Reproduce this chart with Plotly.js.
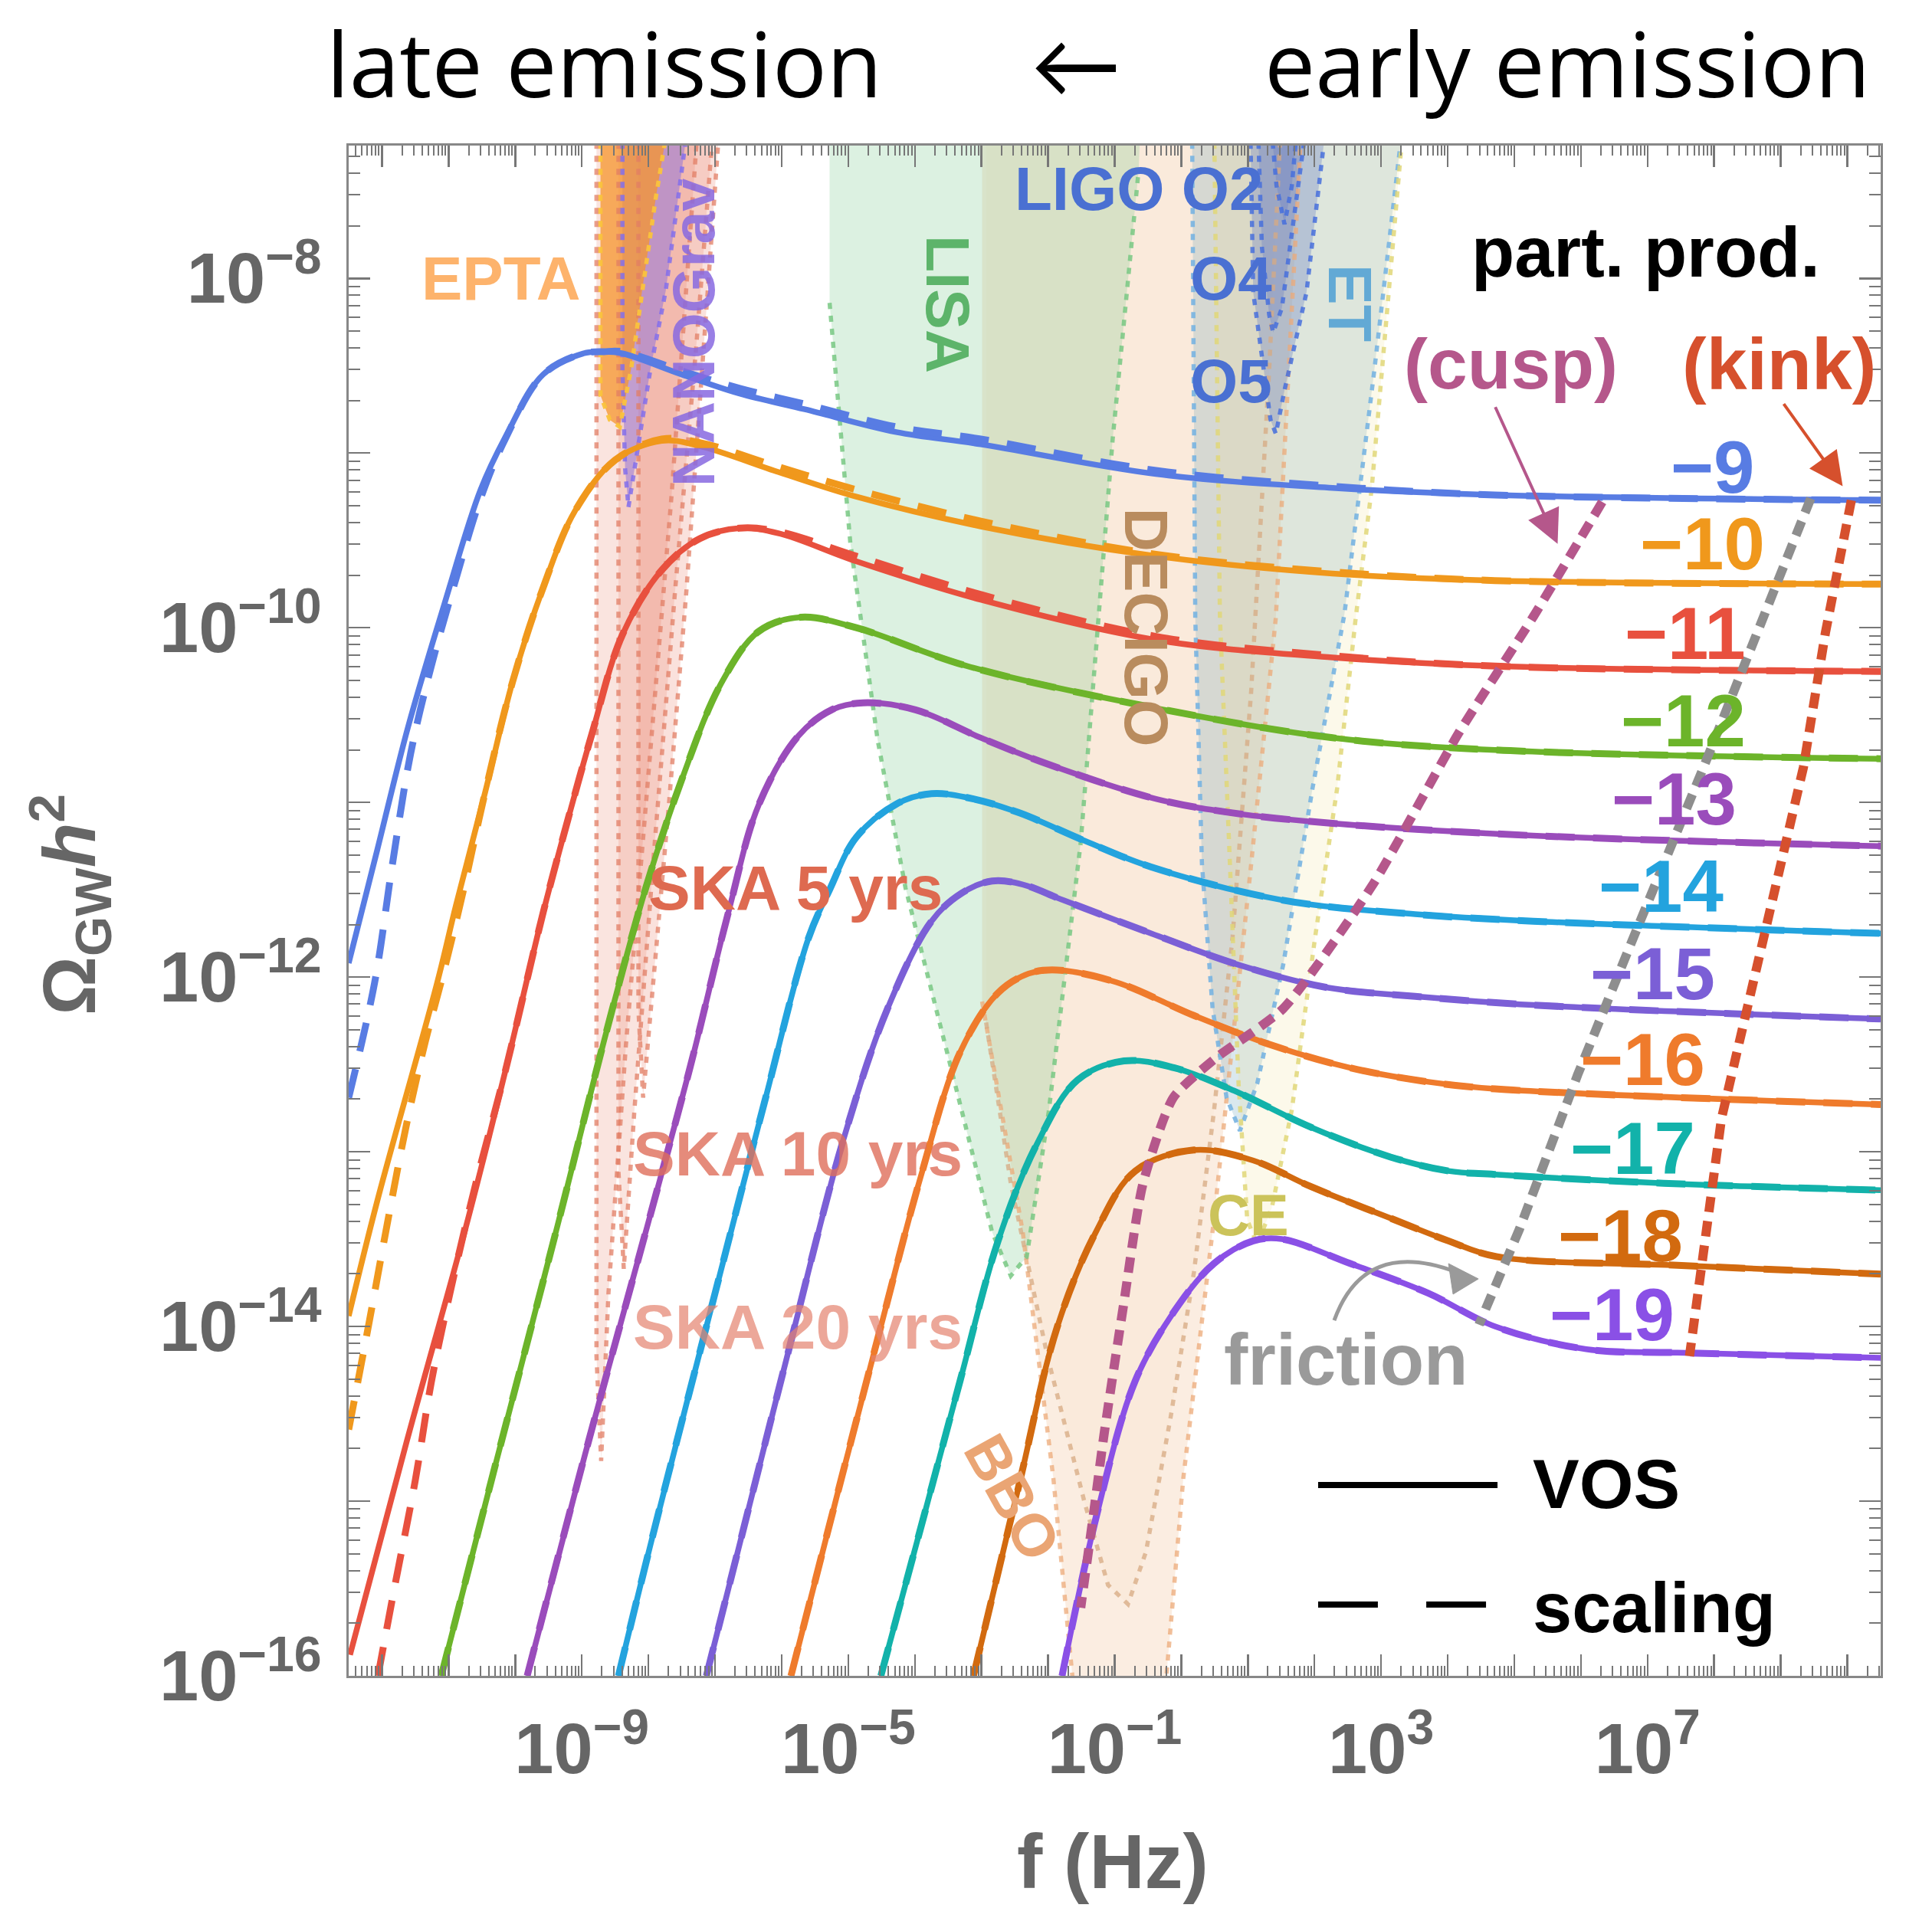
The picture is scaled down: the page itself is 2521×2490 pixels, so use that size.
<!DOCTYPE html>
<html><head><meta charset="utf-8">
<script src="https://cdn.plot.ly/plotly-3.0.1.min.js"></script>
<style>html,body{margin:0;padding:0;background:#fff}#chart{width:2521px;height:2490px}</style>
</head><body><div id="chart"></div>
<script>
// ---------------- DATA (log10 f [Hz], log10 Omega_GW h^2) ----------------
const gmuLabels = ['\u22129','\u221210','\u221211','\u221212','\u221213','\u221214','\u221215','\u221216','\u221217','\u221218','\u221219'];

// VOS (solid) curves
const vos_m9_f  = [-12.50,-12.07,-11.61,-11.06,-10.52,-10.15,-9.58,-8.98,-8.67,-8.39,-7.50,-6.63,-5.65,-4.28,-3.01,-0.38,2.27,4.71,10.50];
const vos_m9_O  = [-11.92,-11.27,-10.57,-9.86,-9.21,-8.91,-8.55,-8.43,-8.42,-8.43,-8.55,-8.66,-8.75,-8.88,-8.95,-9.12,-9.20,-9.24,-9.27];
const vos_m10_f = [-12.50,-12.07,-11.17,-10.89,-10.45,-10.04,-9.58,-9.10,-8.50,-7.80,-7.23,-6.04,-4.88,-3.01,-0.38,2.27,4.71,10.50];
const vos_m10_O = [-13.94,-13.28,-12.03,-11.59,-10.94,-10.31,-9.77,-9.33,-9.04,-8.93,-8.96,-9.11,-9.25,-9.42,-9.59,-9.69,-9.73,-9.75];
const vos_m11_f = [-12.48,-11.63,-10.74,-10.15,-9.58,-9.21,-8.85,-8.39,-7.80,-7.23,-6.63,-6.04,-4.88,-3.01,-0.38,2.27,4.71,10.50];
const vos_m11_O = [-15.88,-14.66,-13.43,-12.54,-11.63,-11.10,-10.61,-10.04,-9.67,-9.49,-9.43,-9.46,-9.62,-9.84,-10.07,-10.17,-10.22,-10.25];
const vos_m12_f = [-11.11,-10.33,-9.37,-8.67,-8.04,-7.50,-6.91,-6.34,-5.71,-4.88,-3.21,-0.38,2.27,4.71,10.50];
const vos_m12_O = [-16.00,-14.84,-13.43,-12.37,-11.49,-10.87,-10.32,-10.02,-9.94,-10.00,-10.22,-10.46,-10.63,-10.70,-10.75];
const vos_m13_f = [-9.82,-8.95,-8.02,-7.37,-6.80,-6.34,-5.75,-5.25,-4.78,-3.99,-3.01,-2.01,-0.38,0.77,2.27,5.28,10.50];
const vos_m13_O = [-16.00,-14.73,-13.43,-12.51,-11.63,-11.01,-10.62,-10.47,-10.43,-10.47,-10.63,-10.78,-10.98,-11.06,-11.12,-11.19,-11.25];
const vos_m14_f = [-8.45,-7.93,-7.00,-6.26,-5.60,-5.28,-4.88,-4.28,-3.75,-3.12,-2.43,-1.45,-0.45,1.53,3.51,5.28,10.50];
const vos_m14_O = [-16.00,-15.19,-13.81,-12.72,-11.78,-11.50,-11.20,-11.01,-10.95,-10.98,-11.06,-11.22,-11.37,-11.56,-11.64,-11.68,-11.75];
const vos_m15_f = [-7.13,-6.56,-5.89,-5.08,-4.41,-3.75,-3.30,-2.84,-2.38,-1.77,-0.45,0.86,2.19,3.51,5.28,10.50];
const vos_m15_O = [-16.00,-15.14,-14.13,-12.94,-12.18,-11.68,-11.52,-11.45,-11.47,-11.56,-11.75,-11.93,-12.06,-12.11,-12.16,-12.24];
const vos_m16_f = [-5.86,-5.15,-4.51,-3.91,-3.32,-2.75,-2.29,-1.86,-0.97,0.19,1.36,2.54,3.71,4.71,10.50];
const vos_m16_O = [-16.00,-14.94,-14.00,-13.14,-12.43,-12.09,-11.98,-11.96,-12.03,-12.22,-12.39,-12.52,-12.60,-12.64,-12.73];
const vos_m17_f = [-4.51,-3.86,-3.32,-2.75,-2.16,-1.56,-0.86,-0.10,0.79,1.95,3.14,4.01,4.71,7.24,10.50];
const vos_m17_O = [-16.00,-15.08,-14.31,-13.51,-12.95,-12.59,-12.48,-12.52,-12.65,-12.86,-13.03,-13.11,-13.13,-13.18,-13.22];
const vos_m18_f = [-3.12,-2.45,-1.86,-1.27,-0.69,0.19,1.08,1.95,3.14,4.01,4.73,7.45,10.50];
const vos_m18_O = [-16.00,-14.93,-14.00,-13.45,-13.11,-12.99,-13.05,-13.20,-13.38,-13.51,-13.60,-13.65,-13.70];
const vos_m19_f = [-1.79,-1.27,-0.69,-0.10,0.49,1.08,1.51,2.54,3.71,4.71,6.08,7.45,10.50];
const vos_m19_O = [-16.00,-15.08,-14.31,-13.91,-13.64,-13.51,-13.50,-13.64,-13.81,-14.00,-14.13,-14.15,-14.18];

// Scaling (dashed) curves that differ visibly from VOS
const scl_m9_f  = [-12.50,-12.11,-11.85,-11.57,-11.26,-10.89,-10.52,-10.15,-9.58,-8.98,-8.67,-8.39,-7.50,-6.63,-5.65,-4.28,-3.01,-0.38,2.27,4.71,10.50];
const scl_m9_O  = [-12.69,-12.03,-11.37,-10.72,-10.22,-9.72,-9.26,-8.92,-8.55,-8.43,-8.42,-8.42,-8.53,-8.63,-8.72,-8.85,-8.92,-9.10,-9.19,-9.24,-9.27];
const scl_m10_f = [-12.50,-12.19,-11.91,-11.63,-11.35,-11.08,-10.80,-10.45,-10.04,-9.58,-9.10,-8.50,-7.80,-7.23,-6.04,-4.88,-3.01,-0.38,2.27,4.71,10.50];
const scl_m10_O = [-14.59,-13.97,-13.39,-12.84,-12.37,-11.98,-11.54,-10.94,-10.31,-9.77,-9.33,-9.04,-8.92,-8.94,-9.08,-9.21,-9.39,-9.58,-9.68,-9.73,-9.75];
const scl_m11_f = [-12.06,-11.82,-11.50,-11.26,-10.98,-10.61,-10.15,-9.58,-9.21,-8.85,-8.39,-7.80,-7.23,-6.63,-6.04,-4.88,-3.01,-0.38,2.27,4.71,10.50];
const scl_m11_O = [-16.00,-15.51,-14.88,-14.32,-13.81,-13.21,-12.54,-11.63,-11.10,-10.61,-10.04,-9.67,-9.49,-9.43,-9.45,-9.59,-9.81,-10.05,-10.16,-10.22,-10.25];

// Particle-production / friction lines
const cusp_f = [6.32,5.28,4.17,2.86,1.53,0.53,-0.12,-0.58,-0.86,-1.16,-1.32,-1.51];
const cusp_O = [-9.28,-9.94,-10.60,-11.48,-12.18,-12.46,-12.69,-13.19,-13.86,-14.62,-15.08,-15.61];
const kink_f = [10.06,9.67,9.34,8.65,8.11,7.63];
const kink_O = [-9.27,-10.03,-10.80,-11.92,-12.81,-14.17];
const fric_f = [9.45,8.45,7.84,6.76,5.95,5.08,4.47];
const fric_O = [-9.26,-10.22,-10.80,-11.80,-12.56,-13.44,-13.99];

// Detector sensitivity regions
const ska20_f = [-8.78,-8.78,-8.71,-8.60,-8.34,-8.02,-7.65,-7.28,-7.24];
const ska20_O = [-7.0,-14.17,-14.77,-13.81,-12.40,-10.92,-9.23,-7.24,-7.0];
const ska10_f = [-8.45,-8.45,-8.37,-8.21,-7.93,-7.60,-7.28,-7.04,-7.00];
const ska10_O = [-7.0,-13.11,-13.67,-12.76,-11.35,-9.79,-8.38,-7.24,-7.0];
const ska5_f  = [-8.15,-8.15,-8.08,-7.93,-7.69,-7.43,-7.19,-6.95,-6.91];
const ska5_O  = [-7.0,-12.19,-12.69,-12.05,-11.00,-9.79,-8.52,-7.24,-7.0];
const epta_f  = [-8.72,-8.72,-8.58,-8.43,-8.26,-8.08,-7.89,-7.76,-7.72];
const epta_O  = [-7.0,-8.67,-8.81,-8.85,-8.52,-8.03,-7.54,-7.24,-7.0];
const nano_f  = [-8.39,-8.39,-8.35,-8.30,-8.15,-7.97,-7.74,-7.45,-7.41];
const nano_O  = [-7.0,-8.52,-9.09,-9.31,-8.95,-8.52,-8.07,-7.24,-7.0];
const lisa_f  = [-5.28,-5.28,-4.97,-4.56,-4.14,-3.49,-2.84,-2.56,-2.32,-1.99,-1.51,-1.03,-0.64,-0.60];
const lisa_O  = [-7.0,-8.14,-9.51,-10.64,-11.49,-12.47,-13.46,-13.71,-13.60,-12.77,-11.23,-8.92,-7.38,-7.0];
const bbo_f   = [-2.99,-2.99,-2.38,-1.92,-1.56,-0.29,0.03,0.49,1.05,1.42,1.82];
const bbo_O   = [-7.0,-12.14,-13.46,-14.87,-16.30,-16.30,-14.87,-13.39,-11.35,-9.94,-7.0];
const decigo_f = [-2.93,-2.93,-2.56,-2.01,-1.45,-1.10,-0.80,-0.53,-0.16,0.19,0.49,0.77,1.05,1.32,1.51];
const decigo_O = [-7.0,-12.26,-13.18,-14.17,-15.01,-15.48,-15.59,-15.29,-14.52,-13.69,-12.77,-11.77,-10.36,-8.52,-7.0];
const et_f    = [0.16,0.21,0.31,0.47,0.68,0.88,1.14,1.53,1.97,2.45,2.90,3.36];
const et_O    = [-7.0,-9.94,-11.35,-12.18,-12.69,-12.88,-12.61,-11.93,-10.92,-9.92,-8.52,-7.0];
const ce_f    = [0.49,0.58,0.73,0.86,0.99,1.14,1.36,1.66,2.01,2.34,2.62,2.86,3.36];
const ce_O    = [-7.0,-9.94,-11.35,-12.61,-13.39,-13.53,-13.32,-12.76,-11.77,-10.92,-9.94,-9.20,-7.0];
const o5_f    = [1.03,1.08,1.34,1.42,1.55,1.88,2.21];
const o5_O    = [-7.0,-8.08,-8.81,-8.89,-8.64,-8.08,-7.0];
const o4_f    = [1.14,1.21,1.32,1.38,1.51,1.69,1.92];
const o4_O    = [-7.0,-7.82,-8.21,-8.31,-8.17,-7.68,-7.0];
const o2_f    = [1.32,1.43,1.55,1.66,1.77];
const o2_O    = [-7.0,-7.47,-7.69,-7.47,-7.0];

// Axis tick labels
const xLabelExp = [-9,-5,-1,3,7];
const yLabelExp = [-16,-14,-12,-10,-8];

// ---------------- DRAWING ----------------
const toLin = a => a.map(v => Math.pow(10, v));
const FONT = 'Liberation Sans, Arial, Helvetica, sans-serif';
const colors = ['#587ce3','#f0981c','#e8503e','#6cb42a','#9a4cbb','#23a3de','#7b5fd6','#ef7b2c','#12b2aa','#d26a0f','#8a50e6'];

const vosF = [vos_m9_f,vos_m10_f,vos_m11_f,vos_m12_f,vos_m13_f,vos_m14_f,vos_m15_f,vos_m16_f,vos_m17_f,vos_m18_f,vos_m19_f];
const vosO = [vos_m9_O,vos_m10_O,vos_m11_O,vos_m12_O,vos_m13_O,vos_m14_O,vos_m15_O,vos_m16_O,vos_m17_O,vos_m18_O,vos_m19_O];
const sclF = [scl_m9_f,scl_m10_f,scl_m11_f,vos_m12_f,vos_m13_f,vos_m14_f,vos_m15_f,vos_m16_f,vos_m17_f,vos_m18_f,vos_m19_f];
const sclO = [scl_m9_O,scl_m10_O,scl_m11_O,vos_m12_O,vos_m13_O,vos_m14_O,vos_m15_O,vos_m16_O,vos_m17_O,vos_m18_O,vos_m19_O];

const fills = [], outlines = [];
function region(f, O, fillc, linec, from, to) {
  const x = toLin(f), y = toLin(O);
  fills.push({x, y, mode:'lines', fill:'toself', fillcolor:fillc, line:{width:0, color:'rgba(0,0,0,0)'}, hoverinfo:'skip', showlegend:false});
  outlines.push({x:x.slice(from,to), y:y.slice(from,to), mode:'lines', line:{color:linec, width:5.5, dash:'8px,9px'}, hoverinfo:'skip', showlegend:false});
}
region(bbo_f, bbo_O, 'rgba(240,180,130,0.24)', 'rgba(236,170,120,0.75)', 1, undefined);
region(decigo_f, decigo_O, 'rgba(230,180,130,0.06)', 'rgba(215,170,130,0.75)', 1, undefined);
region(lisa_f, lisa_O, 'rgba(120,200,140,0.26)', 'rgba(120,200,130,0.85)', 1, 13);
region(et_f, et_O, 'rgba(100,160,185,0.24)', 'rgba(120,180,225,0.9)', 0, undefined);
region(ce_f, ce_O, 'rgba(240,225,150,0.2)', 'rgba(225,215,120,0.85)', 0, undefined);
region(o5_f, o5_O, 'rgba(90,115,195,0.3)', 'rgba(70,110,220,0.85)', 0, undefined);
region(o4_f, o4_O, 'rgba(90,115,195,0.28)', 'rgba(70,110,220,0.85)', 0, undefined);
region(o2_f, o2_O, 'rgba(90,115,195,0.28)', 'rgba(70,110,220,0.85)', 0, undefined);
region(ska20_f, ska20_O, 'rgba(232,120,95,0.2)', 'rgba(225,125,100,0.75)', 0, undefined);
region(ska10_f, ska10_O, 'rgba(232,120,95,0.2)', 'rgba(225,125,100,0.75)', 0, undefined);
region(ska5_f, ska5_O, 'rgba(232,120,95,0.22)', 'rgba(225,125,100,0.75)', 0, undefined);
region(nano_f, nano_O, 'rgba(140,110,220,0.5)', 'rgba(130,110,235,0.85)', 0, undefined);
region(epta_f, epta_O, 'rgba(245,150,45,0.75)', 'rgba(250,195,60,0.95)', 0, undefined);

const curves = [];
for (let i = 0; i < vosF.length; i++) {
  curves.push({x:toLin(vosF[i]), y:toLin(vosO[i]), mode:'lines', line:{color:colors[i], width:7.5, shape:'spline', smoothing:1.0}, hoverinfo:'skip', showlegend:false});
}
for (let i = 0; i < sclF.length; i++) {
  curves.push({x:toLin(sclF[i]), y:toLin(sclO[i]), mode:'lines', line:{color:colors[i], width:9, dash:'38px,24px', shape:'spline', smoothing:1.0}, hoverinfo:'skip', showlegend:false});
}
const ppLines = [
  {x:toLin(fric_f), y:toLin(fric_O), mode:'lines', line:{color:'#8e8e8e', width:12, dash:'20px,12px'}, hoverinfo:'skip', showlegend:false},
  {x:toLin(kink_f), y:toLin(kink_O), mode:'lines', line:{color:'#d6502d', width:12, dash:'20px,12px'}, hoverinfo:'skip', showlegend:false},
  {x:toLin(cusp_f), y:toLin(cusp_O), mode:'lines', line:{color:'#b5578b', width:12, dash:'20px,12px', shape:'spline', smoothing:0.6}, hoverinfo:'skip', showlegend:false}
];

const data = fills.concat(outlines, curves, ppLines);

// ticks
const xMajor = [], xText = [], xMinor = [];
for (let n = -13; n <= 10; n++) {
  if (n >= -12) { xMajor.push(Math.pow(10, n)); xText.push(xLabelExp.includes(n) ? '10<sup>' + (n < 0 ? '\u2212' + (-n) : n) + '</sup>' : ''); }
  for (let k = 2; k <= 9; k++) xMinor.push(k * Math.pow(10, n));
}
const yMajor = [], yText = [], yMinor = [];
for (let n = -16; n <= -8; n++) {
  yMajor.push(Math.pow(10, n));
  yText.push(yLabelExp.includes(n) ? '10<sup>\u2212' + (-n) + '</sup>' : '');
  for (let k = 2; k <= 9; k++) yMinor.push(k * Math.pow(10, n));
}
const tickFont = {family:FONT, size:92, color:'#666', weight:'bold'};
const axisCommon = {type:'log', showline:true, linecolor:'#888', linewidth:3, mirror:'allticks', ticks:'inside', ticklen:28, tickwidth:2.5, tickcolor:'#777', showgrid:false, zeroline:false, tickfont:tickFont, fixedrange:true};

// annotations
const A = [];
function lab(text, x, y, size, color, extra) {
  A.push(Object.assign({text, x, y, xref:'x', yref:'y', showarrow:false, xanchor:'center', yanchor:'middle', font:{family:FONT, size, color, weight:'bold'}}, extra || {}));
}
lab('EPTA', -10.22, -8.00, 80, '#fdb36c');
lab('NANOGrav', -7.32, -8.31, 77, 'rgba(135,105,225,0.85)', {textangle:-90});
lab('LISA', -3.51, -8.15, 79, '#5db46a', {textangle:90});
lab('LIGO O2', -0.63, -7.49, 80, '#4a70d2');
lab('O4', 0.75, -8.00, 80, '#4a70d2');
lab('O5', 0.75, -8.59, 80, '#4a70d2');
lab('ET', 2.54, -8.14, 79, '#62a9d5', {textangle:90});
lab('DECIGO', -0.53, -10.00, 79, '#b98c5e', {textangle:90});
lab('BBO', -2.54, -14.98, 78, '#eaa574', {textangle:61});
lab('CE', 1.01, -13.36, 76, '#cbc35a');
lab('SKA 5 yrs', -8.02, -11.49, 82, '#de6a50', {xanchor:'left'});
lab('SKA 10 yrs', -8.26, -13.01, 82, 'rgba(222,110,90,0.8)', {xanchor:'left'});
lab('SKA 20 yrs', -8.26, -14.00, 82, 'rgba(228,130,110,0.7)', {xanchor:'left'});
lab('part. prod.', 6.97, -7.85, 92, '#000');
lab('(cusp)', 4.95, -8.49, 93, '#b5578b');
lab('(kink)', 8.97, -8.49, 95, '#d6502d');
lab('friction', 2.47, -14.19, 94, '#9a9a9a');
lab('VOS', 5.25, -14.90, 91, '#000', {xanchor:'left'});
lab('scaling', 5.25, -15.61, 92, '#000', {xanchor:'left'});
const gLabX = [8.63,8.78,8.50,8.50,8.36,8.17,8.04,7.89,7.74,7.56,7.43];
const gLabY = [-9.08,-9.52,-10.03,-10.53,-10.98,-11.48,-11.98,-12.47,-12.98,-13.48,-13.93];
for (let i = 0; i < gmuLabels.length; i++) lab(gmuLabels[i], gLabX[i], gLabY[i], 96, colors[i], {xanchor:'right'});
// arrows
A.push({x:5.65, y:-9.52, xref:'x', yref:'y', ax:-82, ay:-180, text:'', showarrow:true, arrowhead:2, arrowsize:2.2, arrowwidth:4, arrowcolor:'#b5578b'});
A.push({x:9.93, y:-9.19, xref:'x', yref:'y', ax:-78, ay:-109, text:'', showarrow:true, arrowhead:2, arrowsize:2.2, arrowwidth:4, arrowcolor:'#d6502d'});
// titles
const titleFont = {family:'Open Sans, Lato, sans-serif', size:118, color:'#000'};
A.push({text:'late emission', xref:'paper', yref:'paper', x:0.1666, y:1.0545, showarrow:false, xanchor:'center', yanchor:'middle', font:titleFont});
A.push({text:'\u2190', xref:'paper', yref:'paper', x:0.4747, y:1.0545, showarrow:false, xanchor:'center', yanchor:'middle', font:titleFont});
A.push({text:'early emission', xref:'paper', yref:'paper', x:0.7954, y:1.0545, showarrow:false, xanchor:'center', yanchor:'middle', font:titleFont});
A.push({text:'f (Hz)', xref:'paper', yref:'paper', x:0.4987, y:-0.121, showarrow:false, xanchor:'center', yanchor:'middle', font:{family:FONT, size:100, color:'#666', weight:'bold'}});
A.push({text:'\u03a9<sub>GW</sub><i>h</i><sup>2</sup>', xref:'paper', yref:'paper', x:-0.1821, y:0.5043, showarrow:false, xanchor:'center', yanchor:'middle', textangle:-90, font:{family:FONT, size:96, color:'#666', weight:'bold'}});

const shapes = [
  {type:'line', xref:'paper', yref:'paper', x0:0.6328, x1:0.7499, y0:0.1247, y1:0.1247, line:{color:'#000', width:8}},
  {type:'line', xref:'paper', yref:'paper', x0:0.6328, x1:0.6718, y0:0.0466, y1:0.0466, line:{color:'#000', width:8}},
  {type:'line', xref:'paper', yref:'paper', x0:0.7034, x1:0.7424, y0:0.0466, y1:0.0466, line:{color:'#000', width:8}},
  {type:'path', xref:'paper', yref:'paper', path:'M 0.6433,0.2323 Q 0.6628,0.2864 0.7229,0.2639', line:{color:'#9a9a9a', width:5}},
  {type:'path', xref:'paper', yref:'paper', path:'M 0.7374,0.2594 L 0.7179,0.2694 L 0.7209,0.2494 Z', fillcolor:'#9a9a9a', line:{color:'#9a9a9a', width:1}}
];

const layout = {
  width:2521, height:2490,
  margin:{l:455, r:67, t:190, b:303, pad:0},
  paper_bgcolor:'#ffffff', plot_bgcolor:'#ffffff',
  showlegend:false, hovermode:false,
  xaxis:Object.assign({}, axisCommon, {range:[-12.5, 10.5], tickvals:xMajor, ticktext:xText, ticklabelstandoff:14,
    minor:{tickvals:xMinor, ticks:'inside', ticklen:13, tickwidth:2, tickcolor:'#777', showgrid:false}}),
  yaxis:Object.assign({}, axisCommon, {range:[-16, -7.24], tickvals:yMajor, ticktext:yText, ticklabelstandoff:14,
    minor:{tickvals:yMinor, ticks:'inside', ticklen:15, tickwidth:2, tickcolor:'#777', showgrid:false}}),
  annotations:A, shapes:shapes
};
Plotly.newPlot('chart', data, layout, {staticPlot:true, displayModeBar:false});
</script></body></html>
